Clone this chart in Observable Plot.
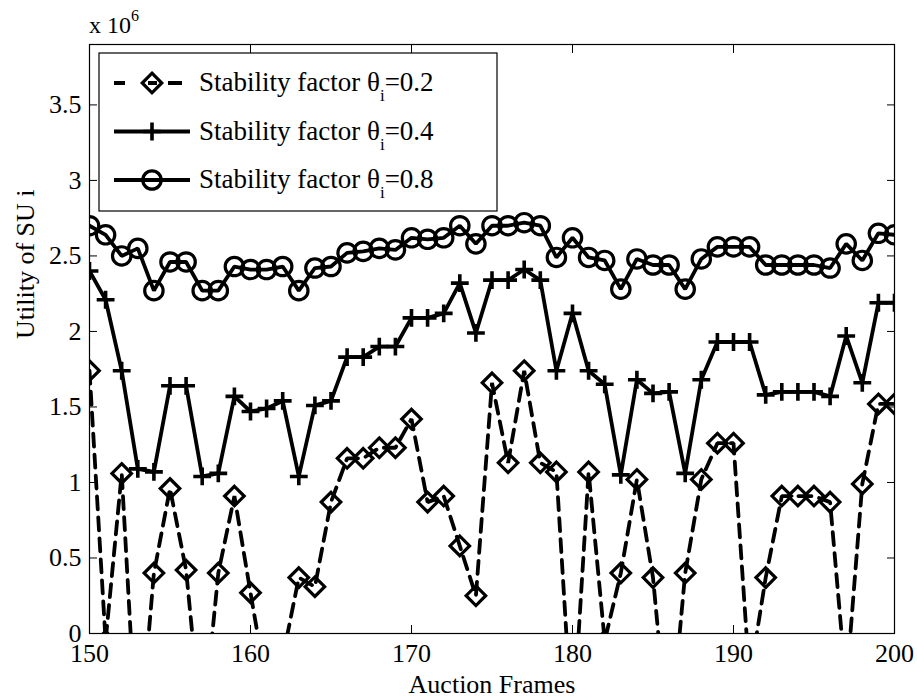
<!DOCTYPE html>
<html><head><meta charset="utf-8">
<script src="https://cdn.jsdelivr.net/npm/d3@7"></script>
<script src="https://cdn.jsdelivr.net/npm/@observablehq/plot@0.6"></script>
<style>body{margin:0;background:#fff} svg{font-family:"Liberation Serif","Times New Roman",serif}</style>
</head><body><div id="chart"></div>
<script>
const frames = [150,151,152,153,154,155,156,157,158,159,160,161,162,163,164,165,166,167,168,169,170,171,172,173,174,175,176,177,178,179,180,181,182,183,184,185,186,187,188,189,190,191,192,193,194,195,196,197,198,199,200];
// values in units of 10^6
const theta02 = [1.74,-0.05,1.06,-0.85,0.40,0.96,0.42,-0.68,0.40,0.91,
                 0.27,-0.35,-0.16,0.37,0.31,0.87,1.16,1.16,1.23,1.23,
                 1.42,0.87,0.91,0.58,0.25,1.66,1.13,1.74,1.13,1.07,
                 -0.66,1.07,-0.05,0.40,1.02,0.37,-0.76,0.40,1.02,1.26,
                 1.26,-0.30,0.37,0.91,0.91,0.91,0.87,-0.35,0.99,1.52,1.52];
const theta04 = [2.40,2.21,1.74,1.09,1.07,1.64,1.64,1.04,1.06,1.57,
                 1.47,1.49,1.54,1.04,1.51,1.54,1.83,1.83,1.90,1.90,
                 2.09,2.09,2.12,2.32,1.99,2.34,2.34,2.41,2.34,1.74,
                 2.12,1.74,1.65,1.05,1.68,1.59,1.60,1.06,1.68,1.93,
                 1.93,1.93,1.58,1.60,1.60,1.60,1.57,1.97,1.66,2.19,2.19];
const theta08 = [2.70,2.64,2.50,2.55,2.27,2.46,2.46,2.27,2.27,2.43,
                 2.41,2.41,2.43,2.27,2.42,2.43,2.52,2.53,2.55,2.54,
                 2.62,2.61,2.62,2.70,2.58,2.70,2.70,2.72,2.70,2.49,
                 2.62,2.49,2.47,2.28,2.48,2.44,2.44,2.28,2.48,2.56,
                 2.56,2.56,2.44,2.44,2.44,2.44,2.42,2.58,2.47,2.65,2.64];
const xTicks = [150,160,170,180,190,200];
const yTicks = [0,0.5,1,1.5,2,2.5,3,3.5];
const yTickLabels = ["0","0.5","1","1.5","2","2.5","3","3.5"];
const thetaLabels = ["0.2","0.4","0.8"];
const xLabel = "Auction Frames";
const yLabel = "Utility of SU i";

const rows = (vals) => frames.map((f, i) => ({frame: f, value: vals[i]}));
const d02 = rows(theta02), d04 = rows(theta04), d08 = rows(theta08);

const W = 917, H = 700, mL = 89, mR = 23, mT = 44, mB = 67;
const FS = 26;
const LW = 3.8;
const styles = [
  {dash: "13,8", symbol: "diamond2", r: 8.8, sw: 3.2},
  {dash: null, symbol: "plus", r: 5.8, sw: 3.6},
  {dash: null, symbol: "circle", r: 9.2, sw: 3.2}
];
const datasets = [d02, d04, d08];

const marks = [];
datasets.forEach((d, k) => {
  const s = styles[k];
  marks.push(Plot.line(d, {x: "frame", y: "value", stroke: "black", strokeWidth: LW,
    strokeDasharray: s.dash, strokeLinejoin: "miter", clip: true}));
  marks.push(Plot.dot(d, {x: "frame", y: "value", symbol: s.symbol, r: s.r, stroke: "black",
    strokeWidth: s.sw, fill: "none", clip: true}));
});
marks.push(
  Plot.frame({stroke: "black", strokeWidth: 1.2}),
  Plot.axisX({anchor: "bottom", ticks: xTicks, tickSize: -8, text: null, label: null}),
  Plot.axisX({anchor: "top", ticks: xTicks, tickSize: -8, text: null, label: null}),
  Plot.axisY({anchor: "left", ticks: yTicks, tickSize: -8, text: null, label: null}),
  Plot.axisY({anchor: "right", ticks: yTicks, tickSize: -8, text: null, label: null}),
  Plot.axisX({anchor: "bottom", ticks: xTicks, tickSize: 0, tickPadding: 10, label: null, fontSize: FS, fill: "black"}),
  Plot.axisY({anchor: "left", ticks: yTicks, tickSize: 0, tickPadding: 8, label: null, fontSize: FS, fill: "black",
    tickFormat: (d) => yTickLabels[yTicks.indexOf(d)]}),
  Plot.text([xLabel], {frameAnchor: "bottom", text: d => d, lineAnchor: "bottom", dy: 59, fontSize: FS, fill: "black"}),
  Plot.text([yLabel], {frameAnchor: "left", text: d => d, rotate: -90, lineAnchor: "bottom", dx: -56, fontSize: FS, fill: "black"})
);

const chart = Plot.plot({
  width: W, height: H, marginLeft: mL, marginRight: mR, marginTop: mT, marginBottom: mB,
  style: {fontFamily: "Liberation Serif, Times New Roman, serif", fontSize: FS + "px", background: "white", color: "black"},
  x: {domain: [150, 200]},
  y: {domain: [0, 3.9]},
  marks
});
document.getElementById("chart").appendChild(chart);

const svg = d3.select(chart);
// exponent label
const ex = svg.append("text").attr("x", mL).attr("y", mT - 11)
  .style("font-size", "24px").style("text-anchor", "start").attr("fill", "black").text("x 10");
ex.append("tspan").attr("dy", -12).style("font-size", "16px").text("6");

// legend
const lg = svg.append("g").attr("transform", `translate(${mL + 10},${mT + 9})`);
lg.append("rect").attr("width", 398).attr("height", 158).attr("fill", "white").attr("stroke", "black").attr("stroke-width", 1.2);
thetaLabels.forEach((t, k) => {
  const s = styles[k];
  const cy = 30 + k * 48.5;
  lg.append("line").attr("x1", 15).attr("x2", s.dash ? 83 : 91).attr("y1", cy).attr("y2", cy)
    .attr("stroke", "black").attr("stroke-width", LW)
    .attr("stroke-dasharray", s.dash ? "11,23,9,11,14,100" : null);
  if (s.symbol === "circle") {
    lg.append("circle").attr("cx", 53).attr("cy", cy).attr("r", s.r).attr("fill", "none").attr("stroke", "black").attr("stroke-width", s.sw);
  } else {
    const sym = s.symbol === "plus" ? d3.symbolPlus : d3.symbolDiamond2;
    lg.append("path").attr("transform", `translate(53,${cy})`)
      .attr("d", d3.symbol(sym, s.r * s.r * Math.PI)())
      .attr("fill", "none").attr("stroke", "black").attr("stroke-width", s.sw);
  }
  const tx = lg.append("text").attr("x", 100).attr("y", cy + 8)
    .style("font-size", "27px").style("text-anchor", "start").attr("fill", "black");
  tx.append("tspan").text("Stability factor θ");
  tx.append("tspan").attr("dy", 10).style("font-size", "17px").text("i");
  tx.append("tspan").attr("dy", -10).text("=" + t);
});
</script></body></html>
